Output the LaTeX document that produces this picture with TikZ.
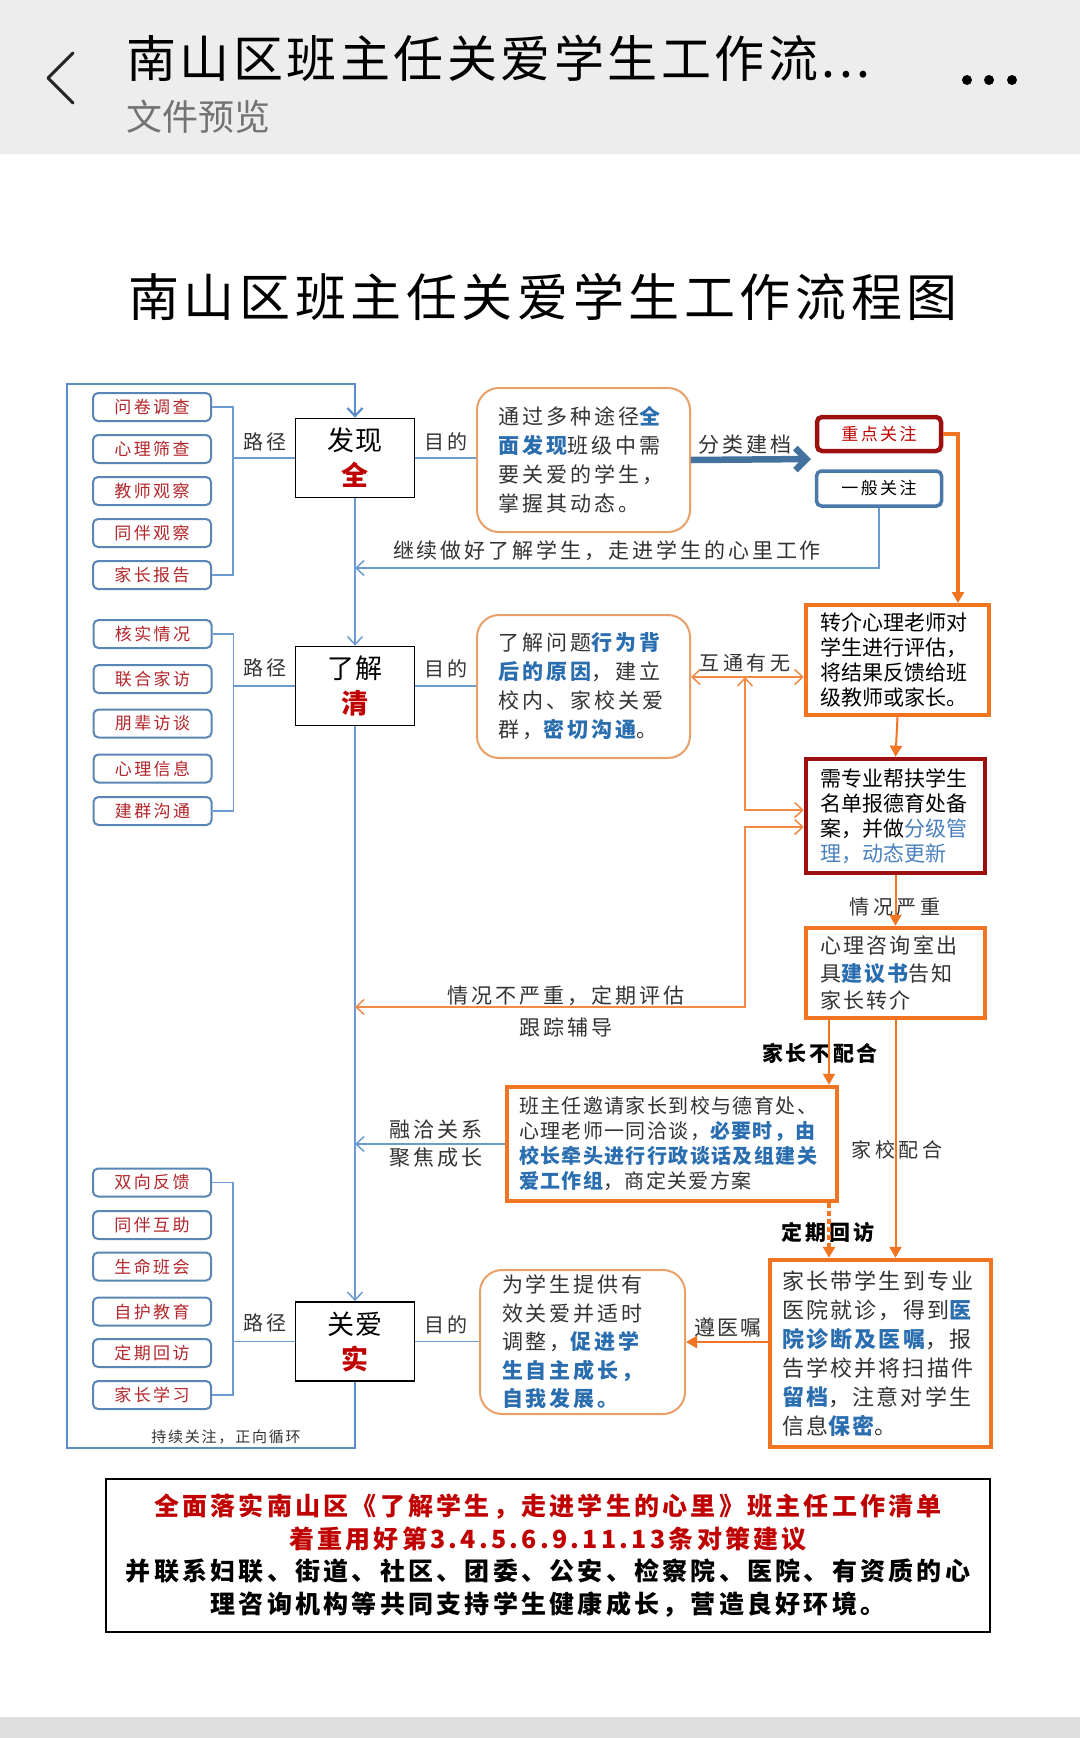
\documentclass[tikz,border=0pt]{standalone}
\usepackage{fontspec}
\setmainfont{Noto Sans CJK SC}
\usetikzlibrary{arrows.meta,calc}
\definecolor{hdrbg}{HTML}{EDEDED}
\definecolor{lblue}{HTML}{6C9BD2}
\definecolor{frblue}{HTML}{5B8CC6}
\definecolor{itemb}{HTML}{5A86B5}
\definecolor{itemt}{HTML}{B3262B}
\definecolor{ored}{HTML}{C00000}
\definecolor{obox}{HTML}{F07422}
\definecolor{othin}{HTML}{F08A45}
\definecolor{rbox}{HTML}{E8A06A}
\definecolor{dred}{HTML}{9C1010}
\definecolor{tblue}{HTML}{2A6EB0}
\definecolor{lbtext}{HTML}{4A80BE}
\definecolor{steel}{HTML}{44729F}
\definecolor{gbox}{HTML}{4A78A8}
\definecolor{labc}{HTML}{333333}
\newcommand\fzz[2]{\fontsize{#1pt}{#2pt}\selectfont}
\newcommand\lsp[1]{\addfontfeature{LetterSpace=#1}}
\newcommand\hlb[1]{\textcolor{tblue}{\bfseries #1}}
\tikzset{
  mainbox/.style={draw=black, line width=1.8pt, fill=white, minimum width=119pt, minimum height=79pt, align=center, inner sep=0pt, font=\fzz{27}{35}\lsp{2}},
  itembox/.style={draw=itemb, line width=2pt, rounded corners=5pt, fill=white, minimum width=118pt, minimum height=28pt, inner sep=0pt, text=itemt, font=\fzz{17}{17}\lsp{14}},
  lab/.style={inner sep=0pt, text=labc, font=\fzz{20}{20}\lsp{18}},
  rbx/.style={draw=rbox, line width=2pt, rounded corners=22pt, fill=white, align=left, inner sep=0pt, text=labc, font=\fzz{21}{29}\lsp{14}},
  obx/.style={draw=obox, line width=4.5pt, fill=white, align=left, inner sep=0pt},
  dbx/.style={draw=dred, line width=4.5pt, fill=white, align=left, inner sep=0pt},
  bl/.style={draw=lblue, line width=1.5pt},
  frame/.style={draw=frblue, line width=2.2pt},
  barb/.style={-{Straight Barb[length=8pt,width=15pt]}},
  dbarb/.style={{Straight Barb[length=8pt,width=15pt]}-{Straight Barb[length=8pt,width=15pt]}},
  tri/.style={-{Triangle[length=11pt,width=12pt]}},
  othk/.style={draw=obox, line width=4.5pt},
  othn/.style={draw=obox, line width=2pt},
  othl/.style={draw=othin, line width=1.5pt},
}
\begin{document}
\begin{tikzpicture}[x=1pt,y=-1pt]
\useasboundingbox (0,0) rectangle (1080,1738);
\fill[white] (0,0) rectangle (1080,1738);
% header
\fill[hdrbg] (0,0) rectangle (1080,154);
\draw[line width=3pt, black!85, line cap=round, line join=round] (73,53) -- (48,78) -- (73,103);
\node[anchor=west, inner sep=0pt] (hdrtitle) at (126,58) {\fzz{50}{50}\lsp{7}南山区班主任关爱学生工作流...};
\node[anchor=west, inner sep=0pt, text=black!55] (hdrsub) at (126,117) {\fzz{36}{36}文件预览};
\fill[black] (967,80) circle (5) (989,80) circle (5) (1012,80) circle (5);
\fill[black!13] (0,1717) rectangle (1080,1738);
% title
\node[inner sep=0pt] (title) at (543,297) {\fzz{51}{51}\lsp{9}南山区班主任关爱学生工作流程图};

% main boxes
\node[mainbox] (fx) at (355,458) {发现\\\textcolor{ored}{\bfseries 全}};
\node[mainbox] (lj) at (355,686) {了解\\\textcolor{ored}{\bfseries 清}};
\node[mainbox] (ga) at (355,1341.5) {关爱\\\textcolor{ored}{\bfseries 实}};

% item group 1
\node[itembox] (i11) at (152,407) {问卷调查};
\node[itembox] (i12) at (152,449) {心理筛查};
\node[itembox] (i13) at (152,491) {教师观察};
\node[itembox] (i14) at (152,533) {同伴观察};
\node[itembox] (i15) at (152,575) {家长报告};
% item group 2
\node[itembox] (i21) at (152.5,634) {核实情况};
\node[itembox] (i22) at (152.5,679) {联合家访};
\node[itembox] (i23) at (152.5,723.5) {朋辈访谈};
\node[itembox] (i24) at (152.5,768.5) {心理信息};
\node[itembox] (i25) at (152.5,811) {建群沟通};
% item group 3
\node[itembox] (i31) at (152,1182.5) {双向反馈};
\node[itembox] (i32) at (152,1225) {同伴互助};
\node[itembox] (i33) at (152,1266.5) {生命班会};
\node[itembox] (i34) at (152,1311.5) {自护教育};
\node[itembox] (i35) at (152,1353) {定期回访};
\node[itembox] (i36) at (152,1395) {家长学习};

% labels path/goal
\node[lab] (p1) at (265,442) {路径};
\node[lab] (m1) at (446,442) {目的};
\node[lab] (p2) at (265,668) {路径};
\node[lab] (m2) at (446,669) {目的};
\node[lab] (p3) at (265,1323) {路径};
\node[lab] (m3) at (446,1325) {目的};

% goal boxes
\node[rbx, minimum width=213pt, minimum height=144pt, text width=170pt] (g1) at (583.5,460)
 {通过多种途径\hlb{全}\\\hlb{面发现}班级中需\\要关爱的学生，\\掌握其动态。};
\node[rbx, minimum width=213pt, minimum height=143pt, text width=170pt] (g2) at (583.5,686.5)
 {了解问题\hlb{行为背}\\\hlb{后的原因}，建立\\校内、家校关爱\\群，\hlb{密切沟通}。};
\node[rbx, minimum width=205pt, minimum height=144pt, text width=161pt, font=\fzz{21}{28.5}\lsp{14}] (g3) at (582.5,1342)
 {为学生提供有\\效关爱并适时\\调整，\hlb{促进学}\\\hlb{生自主成长，}\\\hlb{自我发展。}};

% focus boxes
\node[draw=dred, line width=4.5pt, rounded corners=5pt, fill=white, minimum width=124pt, minimum height=34pt, inner sep=0pt, text=ored, font=\fzz{17}{17}\lsp{14}] (zd) at (879,434) {重点关注};
\node[draw=gbox, line width=3.5pt, rounded corners=5pt, fill=white, minimum width=125pt, minimum height=35pt, inner sep=0pt, text=black, font=\fzz{17}{17}\lsp{14}] (yb) at (879,488.5) {一般关注};

% orange / dark red boxes
\node[obx, minimum width=183pt, minimum height=110pt, text width=155pt, font=\fzz{21}{25}] (zj) at (897.5,660)
 {转介心理老师对\\学生进行评估，\\将结果反馈给班\\级教师或家长。};
\node[dbx, minimum width=179pt, minimum height=114pt, text width=151pt, font=\fzz{21}{25}] (xz) at (895.5,816)
 {需专业帮扶学生\\名单报德育处备\\案，并做\textcolor{lbtext}{分级管}\\\textcolor{lbtext}{理，动态更新}};
\node[obx, minimum width=179pt, minimum height=90pt, text width=151pt, text=labc, font=\fzz{21}{27.5}\lsp{11}] (xl) at (895.5,973)
 {心理咨询室出\\具\hlb{建议书}告知\\家长转介};
\node[obx, minimum width=330pt, minimum height=114pt, text width=306pt, text=labc, font=\fzz{20}{25}\lsp{7}] (bz) at (672,1144)
 {班主任邀请家长到校与德育处、\\心理老师一同洽谈，\hlb{必要时，由}\\\hlb{校长牵头进行行政谈话及组建关}\\\hlb{爱工作组}，商定关爱方案};
\node[obx, minimum width=221pt, minimum height=187pt, text width=197pt, text=labc, font=\fzz{22}{29}\lsp{10}] (jd) at (880.5,1353.5)
 {家长带学生到专业\\医院就诊，得到\hlb{医}\\\hlb{院诊断及医嘱}，报\\告学校并将扫描件\\\hlb{留档}，注意对学生\\信息\hlb{保密}。};

% bottom box
\node[draw=black, line width=1.5pt, fill=white, minimum width=884pt, minimum height=153pt, align=center, inner sep=0pt, font=\fzz{25}{32.7}\lsp{13}\bfseries] (bt) at (548,1555.5)
 {\textcolor{ored}{全面落实南山区《了解学生，走进学生的心里》班主任工作清单}\\
  \textcolor{ored}{着重用好第3.4.5.6.9.11.13条对策建议}\\
  并联系妇联、街道、社区、团委、公安、检察院、医院、有资质的心\\
  理咨询机构等共同支持学生健康成长，营造良好环境。};

% connector labels
\node[lab, font=\fzz{21}{21}\lsp{13}] (lfl) at (745,445) {分类建档};
\node[lab, font=\fzz{21}{21}\lsp{14}] (ljx) at (607,551) {继续做好了解学生，走进学生的心里工作};
\node[lab] (lht) at (745,663) {互通有无};
\node[lab] (lqy) at (895,907) {情况严重};
\node[lab, font=\fzz{21}{21}\lsp{14}] (lbq) at (566,996) {情况不严重，定期评估};
\node[lab, font=\fzz{21}{21}\lsp{15}] (lgz) at (566,1027) {跟踪辅导};
\node[lab, text=black, font=\fzz{21}{21}\lsp{13}\bfseries] (lbp) at (820,1053) {家长不配合};
\node[lab] (ljp) at (897,1150) {家校配合};
\node[lab, text=black, font=\fzz{21}{21}\lsp{15}\bfseries] (ldq) at (828,1232) {定期回访};
\node[lab, font=\fzz{21}{21}\lsp{15}] (lrq) at (436,1130) {融洽关系};
\node[lab, font=\fzz{21}{21}\lsp{15}] (ljj) at (436,1158) {聚焦成长};
\node[lab, font=\fzz{21}{21}\lsp{10}] (lzy) at (728,1327) {遵医嘱};
\node[lab, font=\fzz{15}{15}\lsp{12}] (lcx) at (226,1437) {持续关注，正向循环};

% coordinates
\coordinate (fr1) at (355,1448);
\coordinate (fr2) at (67,1448);
\coordinate (fr3) at (67,384);
\coordinate (fr4) at (355,384);
\coordinate (b1) at (232,458);
\coordinate (b2) at (233,686);
\coordinate (b3) at (232,1341.5);
\coordinate (j1) at (355,568);
\coordinate (j2) at (355,1007);
\coordinate (fl) at (811,459);
\coordinate (hx) at (745,677);
\coordinate (k1) at (745,810);
\coordinate (k2) at (745,827);
\coordinate (k3) at (745,1007);
\coordinate (k5) at (829,1020);
\coordinate (k6) at (829,1203);
\coordinate (zt) at (958,603);

% brackets
\draw[bl] (i11.east) -- ++(21,0) |- (i15.east);
\draw[bl] (b1) -- (fx.west);
\draw[bl] (i21.east) -- ++(21,0) |- (i25.east);
\draw[bl] (b2) -- (lj.west);
\draw[bl] (i31.east) -- ++(21,0) |- (i36.east);
\draw[bl] (b3) -- (ga.west);
% goal lines
\draw[bl] (fx.east) -- (fx.east -| g1.west);
\draw[bl] (lj.east) -- (lj.east -| g2.west);
\draw[bl] (ga.east) -- (ga.east -| g3.west);

% main flow
\draw[frame, barb] (ga.south) -- (fr1) -- (fr2) -- (fr3) -- (fr4) -- (fx.north);
\draw[bl, barb] (fx.south) -- (lj.north);
\draw[bl, barb] (lj.south) -- (ga.north);
\draw[bl, barb] (yb.south) |- (j1);
\draw[draw=steel, line width=6.5pt, -{Straight Barb[length=11pt,width=22pt]}] (g1.east) -- (fl);
\draw[othk, tri] (zd.east) -| (zt);
\draw[othn, tri] (zj.south) -- (xz.north);
\draw[othl, dbarb] (g2.east |- hx) -- (zj.west |- hx);
\draw[othl, dbarb] (hx) -- (k1) -- (xz.west |- k1);
\draw[othl, dbarb] (xz.west |- k2) -- (k2) -- (k3) -- (j2);
\draw[othn, tri] (xz.south) -- (xl.north);
\draw[othn, tri] (k5) -- (k5 |- bz.north);
\draw[othn, tri] (xl.south) -- (xl.south |- jd.north);
\draw[draw=obox, line width=4pt, dash pattern=on 5pt off 3pt, tri] (k6) -- (k6 |- jd.north);
\draw[bl, barb] (bz.west) -- (bz.west -| ga.north);
\draw[draw=obox, line width=2.5pt, tri] (jd.west |- g3.east) -- (g3.east);
\end{tikzpicture}
\end{document}
